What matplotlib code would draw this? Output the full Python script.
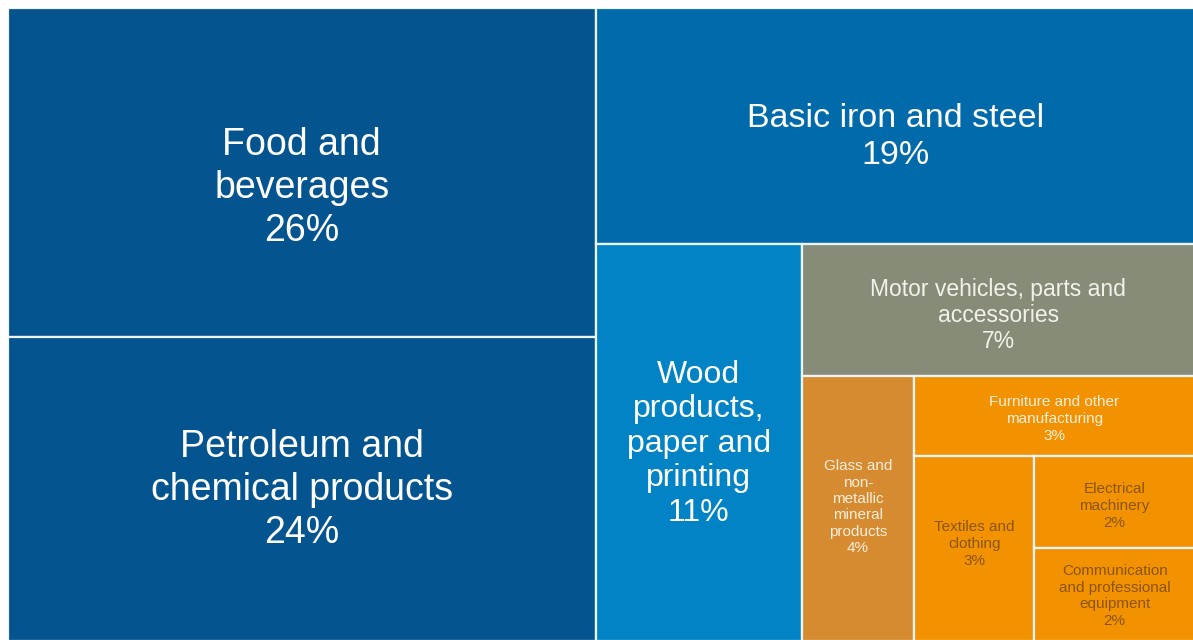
import matplotlib.pyplot as plt
from matplotlib.patches import Rectangle

plt.rcParams['font.family'] = ['Liberation Sans', 'DejaVu Sans']

# Share of manufacturing output by industry (%)
labels = [
    "Food and\nbeverages",
    "Petroleum and\nchemical products",
    "Basic iron and steel",
    "Wood\nproducts,\npaper and\nprinting",
    "Motor vehicles, parts and\naccessories",
    "Glass and\nnon-\nmetallic\nmineral\nproducts",
    "Furniture and other\nmanufacturing",
    "Textiles and\nclothing",
    "Electrical\nmachinery",
    "Communication\nand professional\nequipment",
]
values = [26, 24, 19, 11, 7, 4, 3, 3, 2, 2]

colors = ["#04548f", "#04548f", "#006aaa", "#0283c5", "#878c79",
          "#d78b30", "#f39200", "#f39200", "#f39200", "#f39200"]
text_colors = ["white", "white", "white", "white", "#f2f2ea",
               "#fbeedd", "#fbeedd", "#8a5506", "#8a5506", "#8a5506"]
font_sizes = [27, 27, 24.5, 23, 16.5, 11, 11, 11, 11, 11]
line_gaps = [1.25, 1.25, 1.26, 1.19, 1.16, 1.22, 1.27, 1.25, 1.25, 1.22]
# vertical nudge of each label below the tile centre, in points
label_nudge = [11, 1, 8, 1, 4, -1, 2, -3, 3, 1]


def slice_layout(vals, x, y, w, h):
    """Alternating slice treemap: the first two items share a column,
    then each following item takes a strip of what is left, switching
    between vertical and horizontal cuts."""
    rects = []
    total = sum(vals)
    # first group: column on the left, split top/bottom
    gw = w * (vals[0] + vals[1]) / total
    h0 = h * vals[0] / (vals[0] + vals[1])
    rects.append((x, y, gw, h0))
    rects.append((x, y + h0, gw, h - h0))
    x, w = x + gw, w - gw
    rest = vals[2:]
    horizontal = True
    for i, v in enumerate(rest):
        remaining = sum(rest[i:])
        if i == len(rest) - 1:
            rects.append((x, y, w, h))
            break
        if horizontal:
            hh = h * v / remaining
            rects.append((x, y, w, hh))
            y, h = y + hh, h - hh
        else:
            ww = w * v / remaining
            rects.append((x, y, ww, h))
            x, w = x + ww, w - ww
        horizontal = not horizontal
    return rects


fig = plt.figure(figsize=(11.93, 6.4), dpi=100)
fig.patch.set_facecolor("white")
ax = fig.add_axes([8 / 1193, -1 / 640, 1187 / 1193, 633 / 640])
ax.set_xlim(0, 1)
ax.set_ylim(1, 0)
ax.axis("off")

rects = slice_layout(values, 0, 0, 1, 1)
for (rx, ry, rw, rh), lab, val, fc, tc, fs, ls, dy in zip(
        rects, labels, values, colors, text_colors, font_sizes, line_gaps,
        label_nudge):
    ax.add_patch(Rectangle((rx, ry), rw, rh, facecolor=fc,
                           edgecolor="#eef5fa", linewidth=1.6))
    ax.annotate(f"{lab}\n{val}%", (rx + rw / 2, ry + rh / 2),
                xytext=(0, -dy), textcoords="offset points",
                ha="center", va="center", ma="center", color=tc,
                fontsize=fs, linespacing=ls)

fig.savefig("out.png", dpi=100, facecolor="white")
